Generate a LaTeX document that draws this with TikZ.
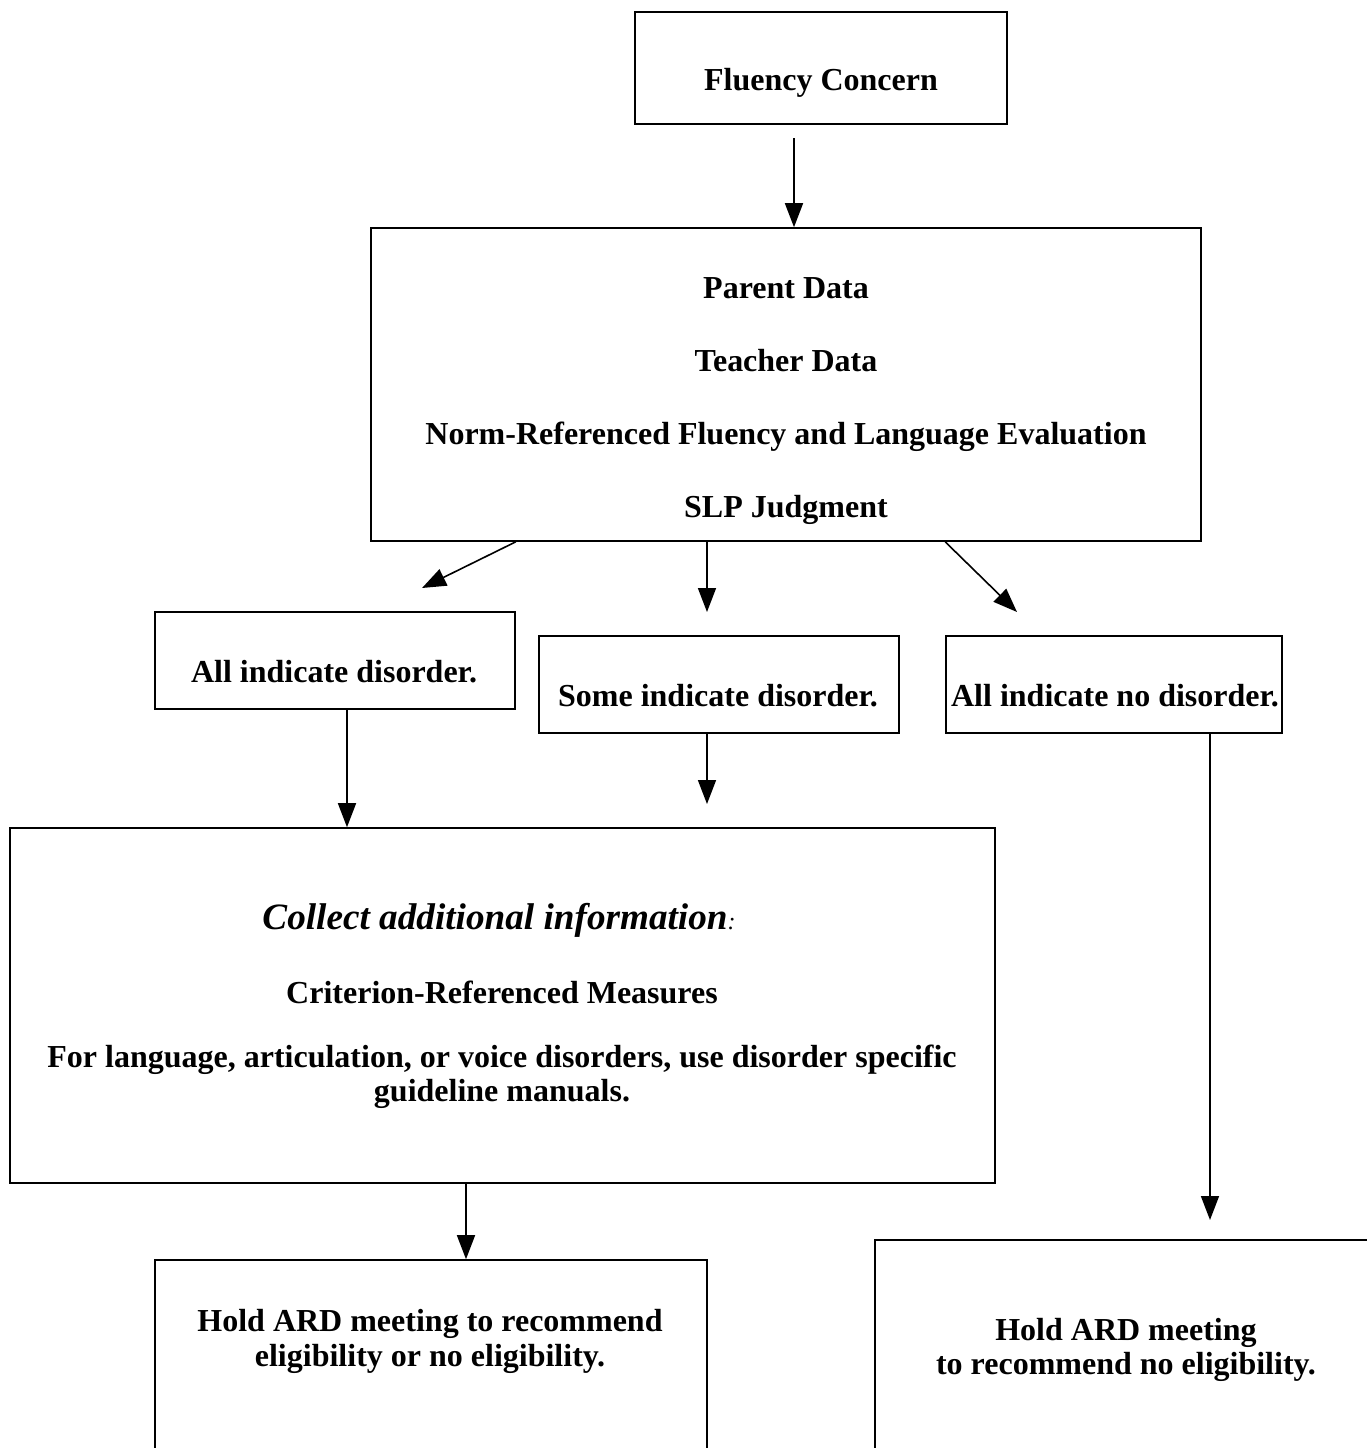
\documentclass[tikz,border=0pt]{standalone}
\usepackage{fontspec}
\setmainfont{Liberation Serif}
\usetikzlibrary{arrows.meta}

\begin{document}
\begin{tikzpicture}[x=0.5pt,y=-0.5pt]

\tikzset{box/.style = {shape=rectangle,draw,line width=0.8pt,inner sep=0pt}}
\tikzset{words/.style = {align=center,inner sep=0pt,font=\fontsize{16}{17}\selectfont\bfseries}}
\tikzset{edge/.style = {-{Triangle[length=12pt,width=9pt]},line width=0.8pt}}

\useasboundingbox (0,0) rectangle (1367,1448);
\clip (0,0) rectangle (1367,1448);

% boxes
\node[box,minimum width=186pt,minimum height=56pt] (concern) at (821,68) {};
\node[box,minimum width=415pt,minimum height=156.5pt] (data) at (786,384.5) {};
\node[box,minimum width=180pt,minimum height=48.5pt] (allyes) at (335,660.5) {};
\node[box,minimum width=180pt,minimum height=48.5pt] (some) at (719,684.5) {};
\node[box,minimum width=168pt,minimum height=48.5pt] (allno) at (1114,684.5) {};
\node[box,minimum width=492.5pt,minimum height=177.5pt] (collect) at (502.5,1005.5) {};
\node[box,minimum width=276pt,minimum height=110pt] (holdyes) at (431,1370) {};
\node[box,minimum width=262.5pt,minimum height=120pt] (holdno) at (1137.5,1360) {};

% texts
\node[words] (concernT) at (821,83) {Fluency Concern};
\node[words,font=\fontsize{16}{36.5}\selectfont\bfseries] (dataT) at (786,401)
  {Parent Data\\Teacher Data\\Norm-Referenced Fluency and Language Evaluation\\SLP Judgment};
\node[words] (allyesT) at (334,672) {All indicate disorder.};
\node[words] (someT) at (718,696) {Some indicate disorder.};
\node[words] (allnoT) at (1115,696) {All indicate no disorder.};
\node[words,font=\fontsize{18.6}{22}\selectfont\bfseries\itshape] (collectH) at (499,920)
  {Collect additional information{\fontsize{12}{14}\selectfont\mdseries :}};
\node[words] (collectC) at (502,992) {Criterion-Referenced Measures};
\node[words] (collectF) at (502,1077)
  {For language, articulation, or voice disorders, use disorder specific\\guideline manuals.};
\node[words,font=\fontsize{16}{17.5}\selectfont\bfseries] (holdyesT) at (430,1341)
  {Hold ARD meeting to recommend\\eligibility or no eligibility.};
\node[words] (holdnoT) at (1126,1350) {Hold ARD meeting\\to recommend no eligibility.};

% arrow ends
\coordinate (f1) at (794,138);
\coordinate (e1) at (422,588);
\coordinate (e2) at (707,612);
\coordinate (e3) at (1017,612);
\coordinate (d1) at (347,0);
\coordinate (d2) at (707,804);
\coordinate (d3) at (1210,1220);
\coordinate (d4) at (466,0);

\draw[edge] (f1) -- (f1 |- data.north);
\draw[edge] (data.south -| allyes.east) -- (e1);
\draw[edge] (data.south -| e2) -- (e2);
\draw[edge] (data.south -| allno.west) -- (e3);
\draw[edge] (allyes.south -| d1) -- (collect.north -| d1);
\draw[edge] (some.south -| d2) -- (d2);
\draw[edge] (allno.south -| d3) -- (d3);
\draw[edge] (collect.south -| d4) -- (holdyes.north -| d4);

\end{tikzpicture}
\end{document}
